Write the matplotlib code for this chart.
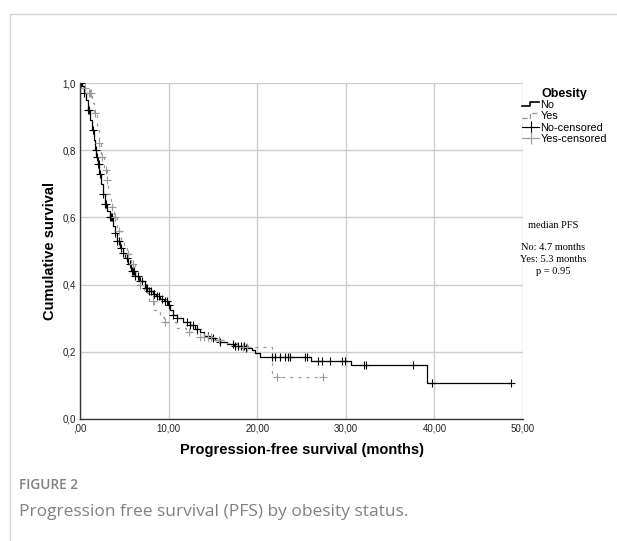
import numpy as np
import matplotlib
matplotlib.use('Agg')
import matplotlib.pyplot as plt
from matplotlib.legend_handler import HandlerBase
from matplotlib.lines import Line2D

# Kaplan-Meier knots (time in months, survival after the step)
no_times = [0, 0.2, 0.4, 0.7, 0.9, 1.15, 1.35, 1.55, 1.7, 1.85, 2.0, 2.2, 2.4, 2.6, 2.8,
            3.1, 3.4, 3.7, 3.95, 4.2, 4.5, 4.8, 5.1, 5.4, 5.8, 6.2, 6.7, 7.3, 7.8, 8.2,
            8.6, 9.0, 9.5, 9.9, 10.2, 10.5, 11.0, 11.6, 12.4, 13.0, 13.5, 14.0, 14.6,
            15.2, 15.8, 16.6, 17.4, 18.6, 19.4, 19.8, 20.3, 26.1, 30.6, 39.2]
no_surv = [1.0, 0.99, 0.97, 0.95, 0.92, 0.89, 0.86, 0.83, 0.80, 0.78, 0.76, 0.73, 0.70,
           0.67, 0.64, 0.62, 0.60, 0.575, 0.553, 0.53, 0.51, 0.495, 0.48, 0.46, 0.44,
           0.425, 0.41, 0.39, 0.38, 0.372, 0.365, 0.358, 0.35, 0.34, 0.325, 0.31, 0.30,
           0.29, 0.28, 0.268, 0.258, 0.248, 0.24, 0.235, 0.228, 0.222, 0.217, 0.212,
           0.205, 0.195, 0.185, 0.173, 0.16, 0.107]
no_end = 48.6
no_censored = [0.1, 0.5, 0.9, 1.0, 1.5, 1.8, 1.9, 2.0, 2.1, 2.3, 2.6, 2.8, 2.9, 3.4, 3.5,
               3.6, 4.0, 4.2, 4.4, 4.6, 4.9, 5.3, 5.6, 5.9, 6.0, 6.1, 6.2, 6.5, 6.8, 7.0,
               7.4, 7.6, 7.8, 8.0, 8.3, 8.4, 8.7, 8.9, 9.2, 9.6, 9.8, 10.0, 10.5, 11.0,
               12.1, 12.4, 12.8, 13.2, 14.5, 15.0, 15.8, 17.3, 17.5, 17.8, 18.2, 18.5,
               18.7, 21.7, 22.0, 22.6, 23.1, 23.5, 23.7, 25.4, 25.6, 26.9, 27.3, 28.2,
               29.6, 29.9, 32.1, 32.3, 37.6, 39.7, 48.6]

yes_times = [0, 0.3, 0.8, 1.3, 1.6, 1.9, 2.1, 2.4, 2.7, 3.0, 3.2, 3.5, 3.8, 4.2, 4.6, 5.0,
             5.3, 5.7, 6.2, 6.6, 7.2, 7.8, 8.4, 9.0, 9.5, 10.8, 12.0, 13.2, 15.0, 16.5,
             17.8, 21.7]
yes_surv = [1.0, 0.985, 0.97, 0.94, 0.91, 0.86, 0.82, 0.78, 0.74, 0.71, 0.67, 0.63, 0.60,
            0.56, 0.53, 0.51, 0.49, 0.46, 0.43, 0.40, 0.375, 0.35, 0.325, 0.305, 0.29,
            0.27, 0.258, 0.245, 0.235, 0.225, 0.213, 0.125]
yes_end = 27.4
yes_censored = [0.6, 1.0, 1.1, 1.2, 1.7, 2.2, 2.5, 2.9, 3.1, 3.6, 4.0, 4.4, 5.4, 6.0, 6.8,
                8.2, 9.6, 12.3, 13.6, 14.0, 14.5, 14.8, 15.7, 18.4, 18.9, 22.2, 27.4]

x_ticks = [0, 10, 20, 30, 40, 50]
x_labels = [',00', '10,00', '20,00', '30,00', '40,00', '50,00']
y_ticks = [0, 0.2, 0.4, 0.6, 0.8, 1.0]
y_labels = ['0,0', '0,2', '0,4', '0,6', '0,8', '1,0']

NO_COL = 'black'
YES_COL = '#9a9a9a'


def surv_at(times, surv, t):
    idx = np.searchsorted(times, t, side='right') - 1
    return np.asarray(surv)[idx]


class StepHandler(HandlerBase):
    def create_artists(self, legend, orig, xd, yd, w, h, fontsize, trans):
        xs = [xd, xd + w * 0.45, xd + w * 0.45, xd + w]
        ys = [yd + h * 0.2, yd + h * 0.2, yd + h * 0.8, yd + h * 0.8]
        ln = Line2D(xs, ys, color=orig.get_color(), lw=orig.get_linewidth(),
                    linestyle=orig.get_linestyle(), transform=trans)
        return [ln]


fig = plt.figure(figsize=(6.17, 5.41), dpi=100)
W, H = 617, 541
ax = fig.add_axes([80 / W, 1 - 419 / H, 443 / W, 336 / H])

ax.set_xlim(0, 50)
ax.set_ylim(0, 1.0)
ax.set_xticks(x_ticks)
ax.set_xticklabels(x_labels)
ax.set_yticks(y_ticks)
ax.set_yticklabels(y_labels)
ax.tick_params(length=0, labelsize=7, pad=3, colors='#222222')
for lab in ax.get_xticklabels() + ax.get_yticklabels():
    lab.set_family('Liberation Sans')
ax.grid(True, color='#cccccc', lw=1)
ax.set_axisbelow(True)
for s in ['top', 'right']:
    ax.spines[s].set_visible(False)
for s in ['left', 'bottom']:
    ax.spines[s].set_color('#333333')
    ax.spines[s].set_linewidth(1)

# survival curves
ax.plot(no_times + [no_end], no_surv + [no_surv[-1]], drawstyle='steps-post',
        color=NO_COL, lw=0.9, label='No')
ax.plot(yes_times + [yes_end], yes_surv + [yes_surv[-1]], drawstyle='steps-post',
        color=YES_COL, lw=0.9, linestyle=(0, (2.5, 4)), label='Yes')

# censored marks
ax.plot(no_censored, surv_at(no_times, no_surv, no_censored), linestyle='none',
        marker='+', ms=6, mew=0.8, color=NO_COL)
ax.plot(yes_censored, surv_at(yes_times, yes_surv, yes_censored), linestyle='none',
        marker='+', ms=6, mew=0.8, color=YES_COL)

ax.set_xlabel('Progression-free survival (months)', fontsize=10.5, fontweight='bold',
              family='Liberation Sans', labelpad=7)
ax.set_ylabel('Cumulative survival', fontsize=10.5, fontweight='bold',
              family='Liberation Sans', labelpad=4)

# legend
h_no = Line2D([], [], color=NO_COL, lw=1.2)
h_yes = Line2D([], [], color=YES_COL, lw=1.0, linestyle=(0, (2, 3)))
h_noc = Line2D([], [], color=NO_COL, lw=0.8, marker='+', ms=8, mew=0.8)
h_yesc = Line2D([], [], color=YES_COL, lw=0.8, marker='+', ms=8, mew=0.8)
leg = ax.legend([h_no, h_yes, h_noc, h_yesc], ['No', 'Yes', 'No-censored', 'Yes-censored'],
                handler_map={h_no: StepHandler(), h_yes: StepHandler()},
                loc='upper left', bbox_to_anchor=(522 / W, 1 - 88 / H),
                bbox_transform=fig.transFigure, frameon=False,
                handlelength=1.6, handletextpad=0.1, labelspacing=0.12, borderpad=0,
                borderaxespad=0, title='Obesity',
                title_fontproperties={'weight': 'bold', 'size': 9, 'family': 'Liberation Sans'},
                prop={'family': 'Liberation Sans', 'size': 7.8})
leg._legend_box.sep = 0

# median PFS annotation
serif = 'Liberation Serif'
fig.text(553 / W, 1 - 226 / H, 'median PFS', ha='center', va='center',
         family=serif, fontsize=7.5)
fig.text(553 / W, 1 - 248 / H, 'No: 4.7 months', ha='center', va='center',
         family=serif, fontsize=7.5)
fig.text(553 / W, 1 - 260 / H, 'Yes: 5.3 months', ha='center', va='center',
         family=serif, fontsize=7.5)
fig.text(553 / W, 1 - 271 / H, 'p = 0.95', ha='center', va='center',
         family=serif, fontsize=7.5)

# caption
fig.text(19 / W, 1 - 485 / H, 'FIGURE 2', ha='left', va='center', family='Open Sans',
         fontsize=9.8, color='#808080', fontweight='semibold')
fig.text(19 / W, 1 - 512 / H, 'Progression free survival (PFS) by obesity status.',
         ha='left', va='center', family='Open Sans', fontsize=12.5, color='#808080')

# page frame
fig.add_artist(Line2D([9.5 / W, 9.5 / W], [0, 1 - 13.5 / H], transform=fig.transFigure,
                      color='#d5d5d5', lw=1))
fig.add_artist(Line2D([9.5 / W, 1], [1 - 13.5 / H, 1 - 13.5 / H], transform=fig.transFigure,
                      color='#d5d5d5', lw=1))

fig.savefig('out.png', dpi=100)
